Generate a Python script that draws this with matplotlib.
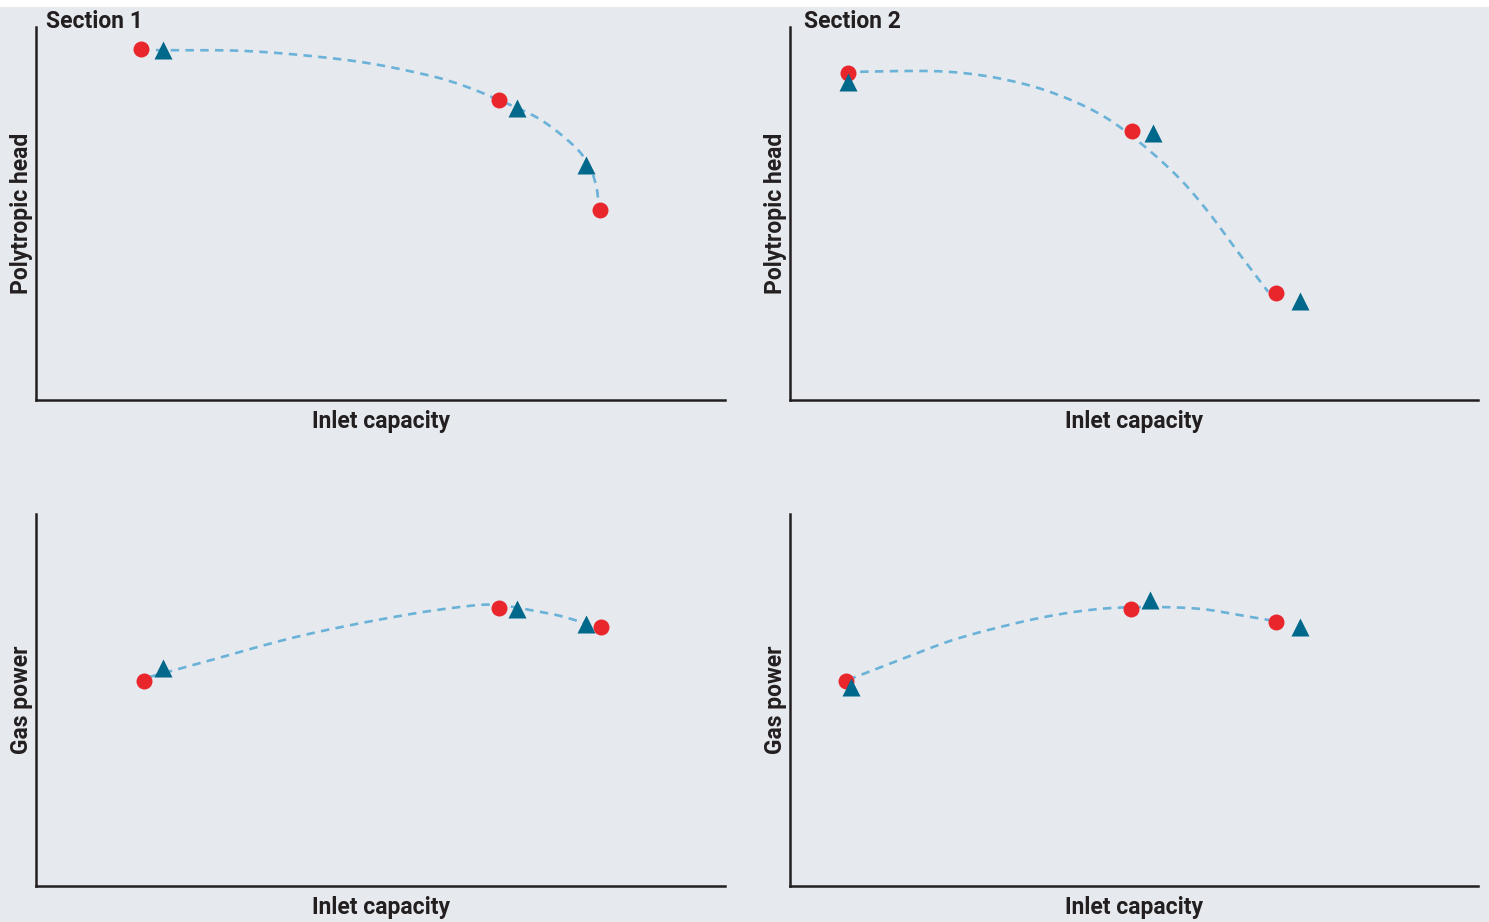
import numpy as np
import matplotlib.pyplot as plt
from matplotlib.patches import Rectangle

# values (arbitrary units, 0-100 on each axis)
head1_circ_x = [15.2, 67.2, 81.9]
head1_circ_y = [94.1, 80.4, 50.9]
head1_tri_x = [18.4, 69.8, 79.8]
head1_tri_y = [93.8, 78.3, 63.0]
head1_fit_x = [17.4, 31.2, 45.7, 55.9, 61.7, 67.2, 73.1, 78.1, 80.3, 81.3, 81.6]
head1_fit_y = [93.8, 93.5, 91.0, 87.5, 84.5, 80.4, 75.3, 68.1, 62.7, 57.4, 53.6]

head2_circ_x = [8.4, 49.7, 70.6]
head2_circ_y = [87.7, 72.1, 28.7]
head2_tri_x = [8.4, 52.8, 74.1]
head2_tri_y = [85.3, 71.6, 26.5]
head2_fit_x = [10.2, 15.7, 23.0, 30.2, 37.5, 44.8, 50.6, 56.4, 60.8, 65.1, 69.5]
head2_fit_y = [88.0, 88.2, 88.0, 86.3, 82.8, 76.9, 69.4, 59.8, 50.4, 39.7, 29.0]

power1_circ_x = [15.7, 67.2, 82.0]
power1_circ_y = [55.1, 74.7, 69.6]
power1_tri_x = [18.4, 69.8, 79.8]
power1_tri_y = [58.6, 74.5, 70.4]
power1_fit_x = [16.5, 23.8, 38.3, 52.8, 62.9, 67.2, 71.7, 76.1, 80.4]
power1_fit_y = [56.2, 59.9, 67.2, 72.6, 75.3, 75.5, 74.2, 72.6, 70.2]

power2_circ_x = [8.1, 49.6, 70.6]
power2_circ_y = [55.1, 74.5, 71.0]
power2_tri_x = [8.9, 52.3, 74.1]
power2_tri_y = [53.5, 76.9, 69.6]
power2_fit_x = [8.4, 16.0, 23.3, 30.5, 37.8, 45.1, 52.3, 59.6, 65.4, 70.6]
power2_fit_y = [55.4, 60.8, 65.9, 69.6, 72.6, 74.5, 75.0, 74.5, 72.8, 71.2]

BG = '#e6e9ee'
RED = '#e8262b'
TEAL = '#00688b'
DASH = '#6ab2d8'
INK = '#231f20'


def smooth(xs, ys, n=20):
    # catmull-rom through the read points, only to draw the dashed line smoothly
    p = np.column_stack([xs, ys]).astype(float)
    p = np.vstack([2 * p[0] - p[1], p, 2 * p[-1] - p[-2]])
    t = np.linspace(0, 1, n, endpoint=False)[:, None]
    out = []
    for i in range(1, len(p) - 2):
        p0, p1, p2, p3 = p[i - 1], p[i], p[i + 1], p[i + 2]
        out.append(0.5 * (2 * p1 + (-p0 + p2) * t + (2 * p0 - 5 * p1 + 4 * p2 - p3) * t ** 2
                          + (-p0 + 3 * p1 - 3 * p2 + p3) * t ** 3))
    out.append(p[-2][None, :])
    out = np.vstack(out)
    return out[:, 0], out[:, 1]


plt.rcParams['font.family'] = ['Roboto', 'DejaVu Sans']

fig = plt.figure(figsize=(14.89, 9.22), dpi=100, facecolor=BG)
fig.patches.append(Rectangle((0, 1 - 7 / 922), 1, 7 / 922, transform=fig.transFigure,
                             facecolor='white', edgecolor='none', zorder=0))

panels = [
    ([36 / 1489, 1 - 400 / 922, 689 / 1489, 373 / 922], 'Polytropic head', ('Section 1', 0.015),
     head1_circ_x, head1_circ_y, head1_tri_x, head1_tri_y, head1_fit_x, head1_fit_y),
    ([790 / 1489, 1 - 400 / 922, 688 / 1489, 373 / 922], 'Polytropic head', ('Section 2', 0.021),
     head2_circ_x, head2_circ_y, head2_tri_x, head2_tri_y, head2_fit_x, head2_fit_y),
    ([36 / 1489, 1 - 886 / 922, 689 / 1489, 372 / 922], 'Gas power', None,
     power1_circ_x, power1_circ_y, power1_tri_x, power1_tri_y, power1_fit_x, power1_fit_y),
    ([790 / 1489, 1 - 886 / 922, 688 / 1489, 372 / 922], 'Gas power', None,
     power2_circ_x, power2_circ_y, power2_tri_x, power2_tri_y, power2_fit_x, power2_fit_y),
]

for rect, ylab, title, cx, cy, tx, ty, fx, fy in panels:
    ax = fig.add_axes(rect)
    ax.set_facecolor(BG)
    sx, sy = smooth(fx, fy)
    ax.plot(sx, sy, color=DASH, lw=1.9, ls=(0, (3.2, 2.4)), zorder=2)
    ax.plot(cx, cy, 'o', color=RED, ms=11.5, mec='none', zorder=3)
    ax.plot(tx, ty, '^', color=TEAL, ms=13, mec='none', zorder=4)
    ax.set_xlim(0, 100)
    ax.set_ylim(0, 100)
    ax.set_xticks([])
    ax.set_yticks([])
    for s in ['top', 'right']:
        ax.spines[s].set_visible(False)
    for s in ['left', 'bottom']:
        ax.spines[s].set_color(INK)
        ax.spines[s].set_linewidth(1.8)
    ax.set_xlabel('Inlet capacity', fontsize=16.5, fontweight='bold', color=INK, labelpad=7)
    ax.set_ylabel(ylab, fontsize=16.5, fontweight='bold', color=INK, labelpad=2.5)
    if title:
        ax.text(title[1], 1.015, title[0], transform=ax.transAxes, fontsize=16.5,
                fontweight='bold', color=INK, ha='left', va='center')

fig.savefig('out.png', dpi=100, facecolor=BG)
